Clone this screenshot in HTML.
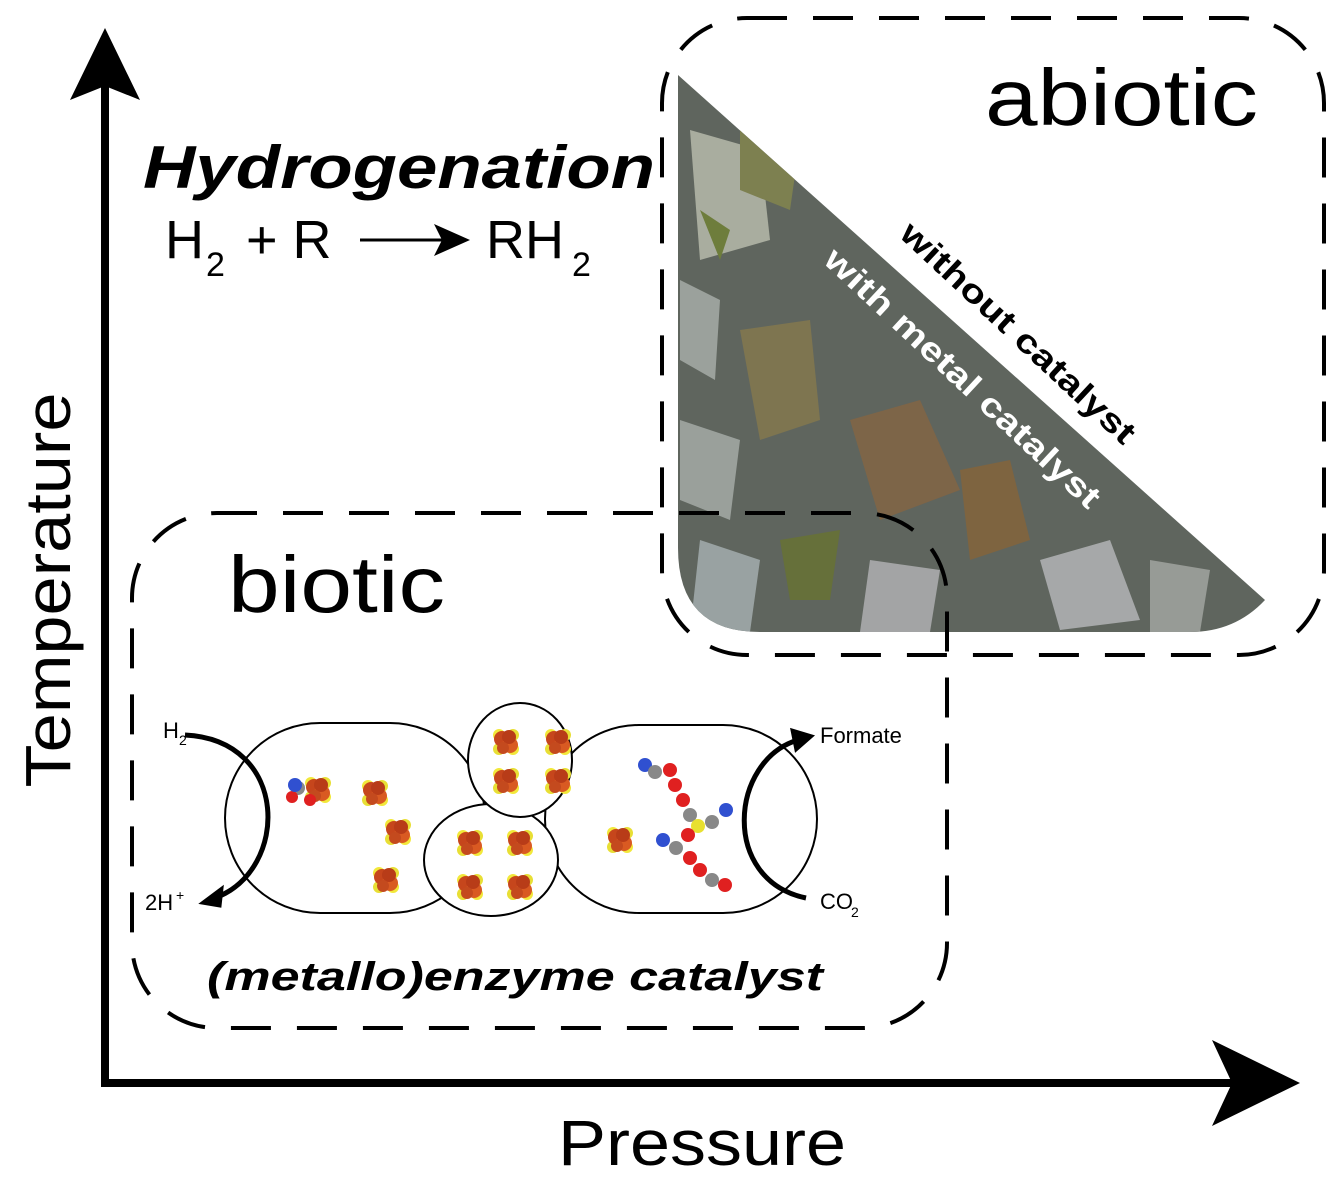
<!DOCTYPE html>
<html><head><meta charset="utf-8"><style>
html,body{margin:0;padding:0;background:#fff;}
svg{display:block;font-family:"Liberation Sans",Arial,sans-serif;}
</style></head><body>
<svg width="1333" height="1195" viewBox="0 0 1333 1195" xmlns="http://www.w3.org/2000/svg">
<defs>
<clipPath id="tri"><path d="M678,75 L1265,600 Q1235,632 1190,632 L760,632 Q678,632 678,548 Z"/></clipPath>
<g id="fe">
<circle cx="-7" cy="-7" r="6" fill="#f2e83a"/><circle cx="7" cy="7" r="6" fill="#f2e83a"/><circle cx="7" cy="-7" r="6" fill="#e8df35"/><circle cx="-7" cy="7" r="6" fill="#e8df35"/>
<circle cx="-4" cy="-3" r="8" fill="#c6461c"/><circle cx="4" cy="3" r="8" fill="#d95a22"/><circle cx="3" cy="-5" r="7" fill="#b83c18"/><circle cx="-3" cy="6" r="6" fill="#c44a1e"/>
</g>
</defs>
<!-- photo triangle -->
<g clip-path="url(#tri)">
<rect x="670" y="70" width="600" height="570" fill="#5f655e"/>
<path d="M690,130 L760,150 L770,240 L700,260Z" fill="#a9ad9f"/>
<path d="M740,100 L800,140 L790,210 L740,190Z" fill="#7d8050"/>
<path d="M680,280 L720,300 L715,380 L680,360Z" fill="#9ba19c"/>
<path d="M740,330 L810,320 L820,420 L760,440Z" fill="#7e7550"/>
<path d="M850,420 L920,400 L960,490 L880,520Z" fill="#7d6548"/>
<path d="M680,420 L740,440 L730,520 L680,500Z" fill="#9aa09b"/>
<path d="M960,470 L1010,460 L1030,540 L970,560Z" fill="#7e6440"/>
<path d="M1040,560 L1110,540 L1140,620 L1060,630Z" fill="#a6a8a9"/>
<path d="M870,560 L940,570 L930,632 L860,632Z" fill="#a3a4a5"/>
<path d="M700,540 L760,560 L750,632 L690,632Z" fill="#99a2a2"/>
<path d="M780,540 L840,530 L830,600 L790,600Z" fill="#66703a"/>
<path d="M1150,560 L1210,570 L1200,632 L1150,632Z" fill="#979b96"/>
<path d="M700,210 L730,230 L720,260Z" fill="#6e7d3c"/>
</g>
<!-- abiotic dashed box -->
<rect x="662" y="18" width="662" height="637" rx="85" fill="none" stroke="#000" stroke-width="4" stroke-dasharray="40,26"/>
<!-- biotic dashed box -->
<rect x="132" y="513" width="815" height="515" rx="85" fill="none" stroke="#000" stroke-width="4" stroke-dasharray="40,26"/>
<!-- axes -->
<line x1="105" y1="85" x2="105" y2="1087" stroke="#000" stroke-width="8"/>
<path d="M105,28 L140,100 L105,86 L70,100 Z" fill="#000"/>
<line x1="101" y1="1083" x2="1240" y2="1083" stroke="#000" stroke-width="8"/>
<path d="M1300,1083 L1212,1040 L1232,1083 L1212,1126 Z" fill="#000"/>
<text x="48" y="590" font-size="64" text-anchor="middle" transform="rotate(-90 48 590)" dy="22" textLength="395" lengthAdjust="spacingAndGlyphs">Temperature</text>
<text x="558" y="1165" font-size="64" textLength="288" lengthAdjust="spacingAndGlyphs">Pressure</text>
<text x="143" y="188" font-size="60" font-weight="bold" font-style="italic" textLength="512" lengthAdjust="spacingAndGlyphs">Hydrogenation</text>
<text x="165" y="258" font-size="54">H</text><text x="206" y="276" font-size="34">2</text>
<text x="246" y="258" font-size="54">+ R</text>
<line x1="360" y1="240" x2="450" y2="240" stroke="#000" stroke-width="3"/>
<path d="M470,240 L434,224 L442,240 L434,256Z" fill="#000"/>
<text x="486" y="258" font-size="54">RH</text><text x="572" y="276" font-size="34">2</text>
<text x="985" y="125" font-size="80" textLength="273" lengthAdjust="spacingAndGlyphs">abiotic</text>
<text x="228" y="612" font-size="80" textLength="217" lengthAdjust="spacingAndGlyphs">biotic</text>
<text x="0" y="0" transform="translate(898,236) rotate(43)" font-weight="bold" font-size="33" fill="#000" textLength="308" lengthAdjust="spacingAndGlyphs">without catalyst</text>
<text x="0" y="0" transform="translate(822,262) rotate(43)" font-weight="bold" font-size="33" fill="#fff" textLength="364" lengthAdjust="spacingAndGlyphs">with metal catalyst</text>
<text x="207" y="990" font-size="40" font-weight="bold" font-style="italic" textLength="616" lengthAdjust="spacingAndGlyphs">(metallo)enzyme catalyst</text>
<!-- enzyme -->
<g fill="#fff" stroke="#000" stroke-width="2">
<rect x="225" y="723" width="260" height="190" rx="95"/>
<rect x="545" y="725" width="272" height="188" rx="94"/>
<ellipse cx="491" cy="860" rx="67" ry="56"/>
<ellipse cx="520" cy="760" rx="52" ry="57"/>
</g>
<g>
<use href="#fe" x="506" y="742"/><use href="#fe" x="558" y="742"/><use href="#fe" x="506" y="781"/><use href="#fe" x="558" y="781"/>
<use href="#fe" x="470" y="843"/><use href="#fe" x="520" y="843"/><use href="#fe" x="470" y="887"/><use href="#fe" x="520" y="887"/>
<use href="#fe" x="375" y="793"/><use href="#fe" x="398" y="832"/><use href="#fe" x="386" y="880"/>
<use href="#fe" x="318" y="790"/><use href="#fe" x="620" y="840"/>
<circle cx="298" cy="788" r="7" fill="#888"/><circle cx="292" cy="797" r="6" fill="#e02020"/><circle cx="295" cy="785" r="7" fill="#3050d0"/><circle cx="310" cy="800" r="6" fill="#e02020"/>
</g>
<g>
<circle cx="645" cy="765" r="7" fill="#3050d0"/><circle cx="655" cy="772" r="7" fill="#888"/><circle cx="670" cy="770" r="7" fill="#e02020"/>
<circle cx="675" cy="785" r="7" fill="#e02020"/><circle cx="683" cy="800" r="7" fill="#e02020"/><circle cx="690" cy="815" r="7" fill="#888"/>
<circle cx="698" cy="826" r="7" fill="#e8e030"/><circle cx="712" cy="822" r="7" fill="#888"/><circle cx="726" cy="810" r="7" fill="#3050d0"/>
<circle cx="688" cy="835" r="7" fill="#e02020"/><circle cx="676" cy="848" r="7" fill="#888"/><circle cx="663" cy="840" r="7" fill="#3050d0"/>
<circle cx="690" cy="858" r="7" fill="#e02020"/><circle cx="700" cy="870" r="7" fill="#e02020"/><circle cx="712" cy="880" r="7" fill="#888"/><circle cx="725" cy="885" r="7" fill="#e02020"/>
</g>
<!-- arrows -->
<path d="M185,735 C290,740 290,870 215,898" fill="none" stroke="#000" stroke-width="5"/>
<path d="M202,903 L222,888 L220,906Z" fill="#000" stroke="#000" stroke-width="3"/>
<path d="M806,898 C720,880 730,760 798,740" fill="none" stroke="#000" stroke-width="5"/>
<path d="M812,736 L792,730 L796,750Z" fill="#000" stroke="#000" stroke-width="3"/>
<g font-size="22">
<text x="163" y="738">H</text><text x="179" y="745" font-size="14">2</text>
<text x="145" y="910">2H</text><text x="176" y="900" font-size="14">+</text>
<text x="820" y="743">Formate</text>
<text x="820" y="909">CO</text><text x="851" y="917" font-size="14">2</text>
</g>
</svg>
</body></html>
